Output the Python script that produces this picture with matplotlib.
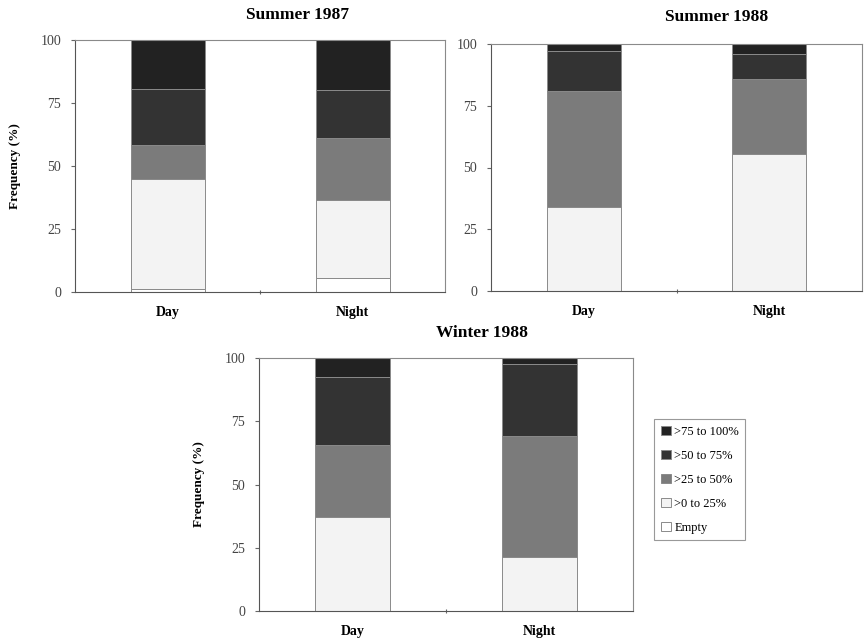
import matplotlib.pyplot as plt
import numpy as np

# --- data (segment heights, %) ---
periods = ["Day", "Night"]
classes = ["Empty", ">0 to 25%", ">25 to 50%", ">50 to 75%", ">75 to 100%"]
colors = ["#ffffff", "#f3f3f3", "#7b7b7b", "#333333", "#222222"]

summer87 = {
    "Empty": [1.0, 5.5],
    ">0 to 25%": [44.0, 31.0],
    ">25 to 50%": [13.5, 24.5],
    ">50 to 75%": [22.0, 19.0],
    ">75 to 100%": [19.5, 20.0],
}
summer88 = {
    "Empty": [0.0, 0.0],
    ">0 to 25%": [34.0, 55.5],
    ">25 to 50%": [47.0, 30.5],
    ">50 to 75%": [16.0, 10.0],
    ">75 to 100%": [3.0, 4.0],
}
winter88 = {
    "Empty": [0.0, 0.0],
    ">0 to 25%": [37.0, 21.5],
    ">25 to 50%": [28.5, 47.5],
    ">50 to 75%": [27.0, 28.5],
    ">75 to 100%": [7.5, 2.5],
}

plt.rcParams["font.family"] = ["Liberation Serif", "DejaVu Serif"]

W, H = 864, 641
fig = plt.figure(figsize=(W / 100, H / 100), dpi=100)


def px_axes(left, top, right, bottom):
    return fig.add_axes([left / W, 1 - bottom / H, (right - left) / W, (bottom - top) / H])


def draw_panel(ax, data, ylabel=True):
    x = np.arange(len(periods))
    bottom = np.zeros(len(periods))
    bars = []
    for cls, col in zip(classes, colors):
        vals = np.array(data[cls])
        b = ax.bar(x, vals, width=0.4, bottom=bottom, color=col,
                   edgecolor="#8a8a8a", linewidth=0.7)
        bars.append(b)
        bottom += vals
    ax.set_xlim(-0.5, 1.5)
    ax.set_ylim(0, 100)
    ax.set_yticks([0, 25, 50, 75, 100])
    ax.tick_params(axis="y", labelsize=10, length=3, color="#666666",
                   labelcolor="#444444", pad=7)
    ax.set_xticks([0.5])
    ax.set_xticklabels([])
    ax.tick_params(axis="x", which="major", length=3, direction="inout", color="#666666")
    ax.set_xticks(x, periods, minor=True)
    ax.tick_params(axis="x", which="minor", length=0, pad=10, labelsize=10)
    for lab in ax.get_xticklabels(minor=True):
        lab.set_fontweight("bold")
    for sp in ax.spines.values():
        sp.set_color("#8a8a8a")
        sp.set_linewidth(0.8)
    ax.spines["left"].set_color("#555555")
    ax.spines["bottom"].set_color("#555555")
    if ylabel:
        ax.set_ylabel("Frequency (%)", fontsize=9.5, fontweight="bold", labelpad=14)
    return bars


ax1 = px_axes(75, 40, 445, 292)
draw_panel(ax1, summer87)
ax2 = px_axes(491, 44, 862, 291)
draw_panel(ax2, summer88, ylabel=False)
ax3 = px_axes(259, 358, 633, 611)
bars = draw_panel(ax3, winter88)

fig.text(298 / W, 1 - 15 / H, "Summer 1987", ha="center", va="center",
         fontsize=12.5, fontweight="bold")
fig.text(717 / W, 1 - 17 / H, "Summer 1988", ha="center", va="center",
         fontsize=12.5, fontweight="bold")
fig.text(482 / W, 1 - 333 / H, "Winter 1988", ha="center", va="center",
         fontsize=12.5, fontweight="bold")

handles = [b[0] for b in bars][::-1]
labels = classes[::-1]
leg = fig.legend(handles, labels, loc="upper left",
                 bbox_to_anchor=(648 / W, 1 - 413 / H),
                 fontsize=9, handlelength=0.8, handleheight=0.8,
                 handletextpad=0.3, labelspacing=0.95, borderpad=0.5,
                 fancybox=False, edgecolor="#999999", framealpha=1)
leg.get_frame().set_linewidth(0.8)

fig.savefig("out.png", dpi=100)
